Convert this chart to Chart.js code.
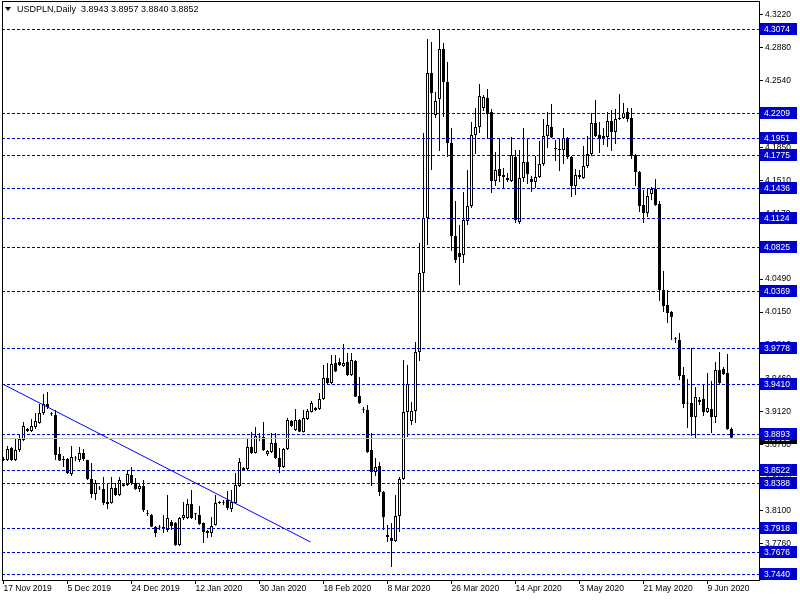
<!DOCTYPE html>
<html>
<head>
<meta charset="utf-8">
<title>USDPLN,Daily</title>
<script src="https://cdn.jsdelivr.net/npm/chart.js@4.4.0/dist/chart.umd.min.js"></script>
<style>
  html, body { margin: 0; padding: 0; background: #fff; }
  canvas { display: block; }
</style>
</head>
<body>
<canvas id="chart" width="800" height="600"></canvas>
<script>
// USDPLN daily candles, 17 Nov 2019 .. mid Jun 2020
const symbol = 'USDPLN,Daily';

const open = [
  3.8632, 3.8622, 3.8746, 3.8622, 3.8725, 3.8828, 3.8942, 3.8921, 3.8963, 3.9004,
  3.9107, 3.9200, 3.9097, 3.9086, 3.8684, 3.8632, 3.8632, 3.8477, 3.8642, 3.8622,
  3.8694, 3.8622, 3.8425, 3.8271, 3.8332, 3.8322, 3.8188, 3.8177, 3.8332, 3.8260,
  3.8353, 3.8363, 3.8467, 3.8384, 3.8322, 3.8353, 3.8064, 3.8053, 3.7929, 3.7929,
  3.7919, 3.7899, 3.7981, 3.7971, 3.7743, 3.8022, 3.8022, 3.8167, 3.8064, 3.8053,
  3.7971, 3.7888, 3.7867, 3.7950, 3.8177, 3.8180, 3.8208, 3.8115, 3.8177, 3.8353,
  3.8539, 3.8529, 3.8756, 3.8694, 3.8859, 3.8859, 3.8684, 3.8704, 3.8797, 3.8642,
  3.8549, 3.8735, 3.9025, 3.8932, 3.9035, 3.8911, 3.9045, 3.9117, 3.9159, 3.9149,
  3.9252, 3.9469, 3.9417, 3.9624, 3.9634, 3.9593, 3.9634, 3.9500, 3.9645, 3.9283,
  3.9138, 3.9138, 3.8725, 3.8498, 3.8560, 3.8291, 3.7847, 3.7816, 3.7785, 3.8043,
  3.8425, 3.9117, 3.9025, 3.9128, 3.9738, 4.0554, 4.1122, 4.2620, 4.2186, 4.2351,
  4.2868, 4.2527, 4.1897, 4.0936, 4.0760, 4.0740, 4.1091, 4.1246, 4.1979, 4.2062,
  4.2258, 4.2361, 4.2217, 4.1504, 4.1628, 4.1566, 4.1514, 4.1504, 4.1752, 4.1081,
  4.1535, 4.1700, 4.1525, 4.1494, 4.1545, 4.1680, 4.1969, 4.2062, 4.1845, 4.1835,
  4.1824, 4.1948, 4.1752, 4.1452, 4.1566, 4.1535, 4.1659, 4.1783, 4.2103, 4.1979,
  4.1969, 4.1959, 4.2124, 4.2010, 4.2145, 4.2155, 4.2217, 4.2155, 4.1773, 4.1597,
  4.1256, 4.1174, 4.1370, 4.1421, 4.1267, 4.0378, 4.0223, 4.0151, 3.9872, 3.9861,
  3.9500, 3.9210, 3.9210, 3.9066, 3.9242, 3.9252, 3.9117, 3.9149, 3.9066, 3.9552,
  3.9562, 3.9521, 3.8943
];

const high = [
  3.8653, 3.8766, 3.8756, 3.8849, 3.8891, 3.9014, 3.8952, 3.9045, 3.9107, 3.9200,
  3.9304, 3.9324, 3.9117, 3.9138, 3.8756, 3.8663, 3.8642, 3.8766, 3.8663, 3.8756,
  3.8735, 3.8625, 3.8591, 3.8415, 3.8353, 3.8446, 3.8374, 3.8446, 3.8384, 3.8446,
  3.8374, 3.8518, 3.8549, 3.8436, 3.8384, 3.8415, 3.8105, 3.8064, 3.7940, 3.7950,
  3.8053, 3.8260, 3.8002, 3.7981, 3.8033, 3.8188, 3.8219, 3.8312, 3.8074, 3.8146,
  3.7975, 3.7899, 3.8033, 3.8260, 3.8198, 3.8208, 3.8301, 3.8312, 3.8487, 3.8642,
  3.8549, 3.8849, 3.8911, 3.8963, 3.8901, 3.9014, 3.8725, 3.8901, 3.8901, 3.8746,
  3.8746, 3.9055, 3.9035, 3.9149, 3.9045, 3.9138, 3.9149, 3.9231, 3.9169, 3.9314,
  3.9603, 3.9624, 3.9707, 3.9707, 3.9676, 3.9820, 3.9727, 3.9727, 3.9655, 3.9479,
  3.9169, 3.9190, 3.8901, 3.8642, 3.8601, 3.8301, 3.7950, 3.7971, 3.8260, 3.8446,
  3.9655, 3.9603, 3.9221, 3.9841, 4.0864, 4.1999, 4.2971, 4.2940, 4.2423, 4.3070,
  4.2930, 4.2733, 4.2052, 4.1298, 4.1050, 4.1390, 4.1618, 4.2114, 4.2258, 4.2506,
  4.2392, 4.2454, 4.2248, 4.1804, 4.1948, 4.1638, 4.1587, 4.1959, 4.1824, 4.1824,
  4.2052, 4.1948, 4.1556, 4.1762, 4.1917, 4.2145, 4.2217, 4.2300, 4.1928, 4.1938,
  4.2052, 4.1959, 4.1762, 4.1628, 4.1618, 4.1866, 4.1969, 4.2207, 4.2341, 4.2114,
  4.2052, 4.2217, 4.2238, 4.2248, 4.2403, 4.2310, 4.2258, 4.2258, 4.1783, 4.1607,
  4.1411, 4.1421, 4.1442, 4.1525, 4.1298, 4.0574, 4.0378, 4.0161, 3.9892, 3.9934,
  3.9583, 3.9459, 3.9779, 3.9376, 3.9273, 3.9407, 3.9521, 3.9438, 3.9634, 3.9738,
  3.9583, 3.9717, 3.8957
];

const low = [
  3.8612, 3.8612, 3.8612, 3.8612, 3.8704, 3.8818, 3.8911, 3.8911, 3.8942, 3.8995,
  3.9086, 3.9149, 3.9076, 3.8622, 3.8612, 3.8549, 3.8477, 3.8456, 3.8612, 3.8601,
  3.8612, 3.8415, 3.8229, 3.8208, 3.8312, 3.8157, 3.8115, 3.8170, 3.8250, 3.8250,
  3.8348, 3.8353, 3.8363, 3.8312, 3.8291, 3.8084, 3.8043, 3.7929, 3.7826, 3.7899,
  3.7867, 3.7878, 3.7899, 3.7733, 3.7733, 3.8002, 3.8012, 3.8012, 3.8002, 3.7950,
  3.7764, 3.7816, 3.7826, 3.7945, 3.8167, 3.8157, 3.8105, 3.8084, 3.8172, 3.8343,
  3.8508, 3.8518, 3.8684, 3.8690, 3.8818, 3.8715, 3.8663, 3.8694, 3.8632, 3.8487,
  3.8539, 3.8725, 3.8963, 3.8921, 3.8911, 3.8905, 3.9035, 3.9112, 3.9128, 3.9138,
  3.9242, 3.9407, 3.9407, 3.9531, 3.9593, 3.9583, 3.9490, 3.9490, 3.9273, 3.9200,
  3.9107, 3.8694, 3.8353, 3.8456, 3.8250, 3.7899, 3.7774, 3.7516, 3.7774, 3.7878,
  3.8415, 3.8859, 3.8984, 3.9004, 3.9645, 4.0358, 4.0843, 4.1618, 4.2155, 4.1814,
  4.2165, 4.1752, 4.0781, 4.0657, 4.0430, 4.0657, 4.1050, 4.1225, 4.1783, 4.2000,
  4.2227, 4.1948, 4.1380, 4.1452, 4.1494, 4.1432, 4.1494, 4.1494, 4.1070, 4.1060,
  4.1494, 4.1473, 4.1390, 4.1432, 4.1535, 4.1659, 4.1845, 4.1948, 4.1711, 4.1607,
  4.1680, 4.1731, 4.1339, 4.1359, 4.1525, 4.1525, 4.1638, 4.1762, 4.1959, 4.1793,
  4.1876, 4.1855, 4.1814, 4.1886, 4.2134, 4.2145, 4.2114, 4.1731, 4.1452, 4.1184,
  4.1070, 4.1132, 4.1308, 4.1246, 4.0264, 4.0151, 4.0037, 3.9861, 3.9830, 3.9448,
  3.9159, 3.8952, 3.8870, 3.8849, 3.9190, 3.9076, 3.9107, 3.8901, 3.9004, 3.9407,
  3.9500, 3.8932, 3.8840
];

const close = [
  3.8622, 3.8735, 3.8622, 3.8725, 3.8838, 3.8973, 3.8921, 3.8973, 3.9025, 3.9107,
  3.9200, 3.9169, 3.9093, 3.8673, 3.8615, 3.8622, 3.8487, 3.8653, 3.8638, 3.8694,
  3.8632, 3.8425, 3.8271, 3.8384, 3.8328, 3.8177, 3.8167, 3.8332, 3.8260, 3.8415,
  3.8370, 3.8477, 3.8384, 3.8322, 3.8353, 3.8105, 3.8060, 3.7932, 3.7867, 3.7925,
  3.7929, 3.8022, 3.7940, 3.7743, 3.8022, 3.8053, 3.8167, 3.8022, 3.8060, 3.7960,
  3.7878, 3.7867, 3.7940, 3.8177, 3.8180, 3.8175, 3.8126, 3.8188, 3.8363, 3.8601,
  3.8518, 3.8756, 3.8694, 3.8870, 3.8855, 3.8725, 3.8715, 3.8797, 3.8642, 3.8549,
  3.8735, 3.9035, 3.8973, 3.9035, 3.8914, 3.9055, 3.9128, 3.9210, 3.9138, 3.9252,
  3.9469, 3.9417, 3.9614, 3.9535, 3.9603, 3.9624, 3.9500, 3.9655, 3.9276, 3.9210,
  3.9135, 3.8704, 3.8498, 3.8549, 3.8291, 3.8033, 3.7826, 3.7785, 3.8043, 3.8425,
  3.9117, 3.9407, 3.9128, 3.9738, 4.0554, 4.1122, 4.2620, 4.2413, 4.2330, 4.2868,
  4.2527, 4.1897, 4.0936, 4.0688, 4.0719, 4.1101, 4.1246, 4.1979, 4.2062, 4.2382,
  4.2372, 4.2196, 4.1504, 4.1618, 4.1556, 4.1545, 4.1535, 4.1773, 4.1101, 4.1535,
  4.1700, 4.1576, 4.1494, 4.1545, 4.1680, 4.1969, 4.2083, 4.1952, 4.1835, 4.1824,
  4.1948, 4.1752, 4.1452, 4.1566, 4.1545, 4.1659, 4.1783, 4.2103, 4.1969, 4.1938,
  4.1948, 4.2124, 4.2010, 4.2145, 4.2155, 4.2207, 4.2145, 4.1762, 4.1597, 4.1246,
  4.1174, 4.1349, 4.1421, 4.1256, 4.0378, 4.0213, 4.0140, 4.0099, 3.9868, 3.9490,
  3.9200, 3.9206, 3.9066, 3.9273, 3.9221, 3.9117, 3.9159, 3.9066, 3.9552, 3.9417,
  3.9511, 3.8942, 3.8852
];

// date labels on the time axis, one every 16 bars
const dateLabels = ['17 Nov 2019', '5 Dec 2019', '24 Dec 2019', '12 Jan 2020', '30 Jan 2020', '18 Feb 2020',
  '8 Mar 2020', '26 Mar 2020', '14 Apr 2020', '3 May 2020', '21 May 2020', '9 Jun 2020'];
const labelStep = 16;

// price scale
const priceTicks = [4.3220, 4.2880, 4.2540, 4.2200, 4.1850, 4.1510, 4.1170, 4.0830, 4.0490,
  4.0150, 3.9810, 3.9460, 3.9120, 3.8780, 3.8440, 3.8100, 3.7760, 3.7420];
const priceMin = 3.7382;
const priceMax = 4.3363;

// horizontal levels and the trend line drawn on the chart
const levels = [4.3074, 4.2209, 4.1951, 4.1775, 4.1436, 4.1124, 4.0825, 4.0369,
  3.9778, 3.9410, 3.8893, 3.8522, 3.8388, 3.7918, 3.7676, 3.7440];
const trendBars = [-0.25, 76.75];
const trendPrices = [3.9407, 3.7775];

const lastPrice = close[close.length - 1];
const FONT = '"Liberation Sans", Arial, sans-serif';

// no extra room for half labels at the ends of the axes
const noPad = s => {
  s.paddingTop = 0;
  s.paddingBottom = 0;
  s.paddingLeft = 0;
  s.paddingRight = 0;
};

const overlay = {
  id: 'overlay',
  afterDatasetsDraw(chart) {
    const c = chart.ctx, a = chart.chartArea, y = chart.scales.y;
    c.save();
    c.beginPath();
    c.rect(a.left, a.top, a.right - a.left, a.bottom - a.top);
    c.clip();
    // bid line
    let py = Math.round(y.getPixelForValue(lastPrice)) + 0.5;
    c.strokeStyle = '#c0c0c0';
    c.lineWidth = 1;
    c.beginPath();
    c.moveTo(a.left, py);
    c.lineTo(a.right, py);
    c.stroke();
    // dashed levels
    c.strokeStyle = '#0000cd';
    c.setLineDash([3, 2]);
    levels.forEach(v => {
      const ly = Math.round(y.getPixelForValue(v)) + 0.5;
      c.beginPath();
      c.moveTo(a.left, ly);
      c.lineTo(a.right, ly);
      c.stroke();
    });
    c.restore();
  },
  afterDraw(chart) {
    const c = chart.ctx, a = chart.chartArea, y = chart.scales.y;
    c.save();
    // frame
    c.strokeStyle = '#000';
    c.lineWidth = 1;
    c.strokeRect(a.left + 0.5, a.top + 0.5, a.right - a.left, a.bottom - a.top);

    c.font = '8.5px ' + FONT;
    c.textBaseline = 'middle';
    c.textAlign = 'left';
    const tag = (v, bg) => {
      const ty = Math.round(y.getPixelForValue(v));
      c.fillStyle = bg;
      c.fillRect(a.right + 1, ty - 6, 37, 12);
      c.fillStyle = '#fff';
      c.fillText(v.toFixed(4), a.right + 5, ty + 0.5);
    };
    tag(lastPrice, '#000');
    levels.forEach(v => tag(v, '#0000cd'));

    // header
    c.fillStyle = '#000';
    c.beginPath();
    c.moveTo(5, 7);
    c.lineTo(11, 7);
    c.lineTo(8, 11);
    c.closePath();
    c.fill();
    const n = close.length - 1;
    c.font = '9px ' + FONT;
    c.fillText(symbol + '  ' + [open[n], high[n], low[n], close[n]].map(v => v.toFixed(4)).join(' '), 17, 10);
    c.restore();
  }
};

const ctx = document.getElementById('chart').getContext('2d');
new Chart(ctx, {
  type: 'bar',
  data: {
    datasets: [
      {
        type: 'line',
        data: trendBars.map((b, i) => ({ x: b, y: trendPrices[i] })),
        borderColor: '#0000ff',
        borderWidth: 1,
        pointRadius: 0,
        order: 0
      },
      {
        data: open.map((o, i) => ({ x: i, y: [o, close[i]] })),
        backgroundColor: open.map((o, i) => close[i] >= o ? '#ffffff' : '#000000'),
        borderColor: '#000000',
        borderWidth: 1,
        borderSkipped: false,
        barThickness: 3,
        minBarLength: 1,
        inflateAmount: 0,
        grouped: false,
        order: 1
      },
      {
        data: low.map((l, i) => ({ x: i, y: [l, high[i]] })),
        backgroundColor: '#000000',
        borderWidth: 0,
        barThickness: 1,
        inflateAmount: 0,
        grouped: false,
        order: 2
      }
    ]
  },
  options: {
    responsive: false,
    animation: false,
    devicePixelRatio: 1,
    layout: { padding: { left: 2, top: 1, right: 0, bottom: 0 } },
    plugins: { legend: { display: false }, tooltip: { enabled: false } },
    scales: {
      x: {
        type: 'linear',
        offset: false,
        min: -0.375,
        max: 188.875,
        afterBuildTicks: s => { s.ticks = dateLabels.map((_, k) => ({ value: k * labelStep })); },
        afterFit: s => { s.height = 20; noPad(s); },
        ticks: {
          callback: (v, i) => dateLabels[i],
          align: 'start',
          autoSkip: false,
          maxRotation: 0,
          padding: 0,
          color: '#000',
          font: { family: FONT, size: 8.5 }
        },
        grid: { offset: false, drawOnChartArea: false, tickLength: 4, color: '#000' },
        border: { display: false }
      },
      y: {
        position: 'right',
        min: priceMin,
        max: priceMax,
        afterBuildTicks: s => { s.ticks = priceTicks.map(v => ({ value: v })); },
        afterFit: s => { s.width = 41; noPad(s); },
        ticks: {
          callback: v => v.toFixed(4),
          padding: 2,
          color: '#000',
          font: { family: FONT, size: 8.5 }
        },
        grid: { drawOnChartArea: false, tickLength: 4, color: '#000' },
        border: { display: false }
      }
    }
  },
  plugins: [overlay]
});
</script>
</body>
</html>
